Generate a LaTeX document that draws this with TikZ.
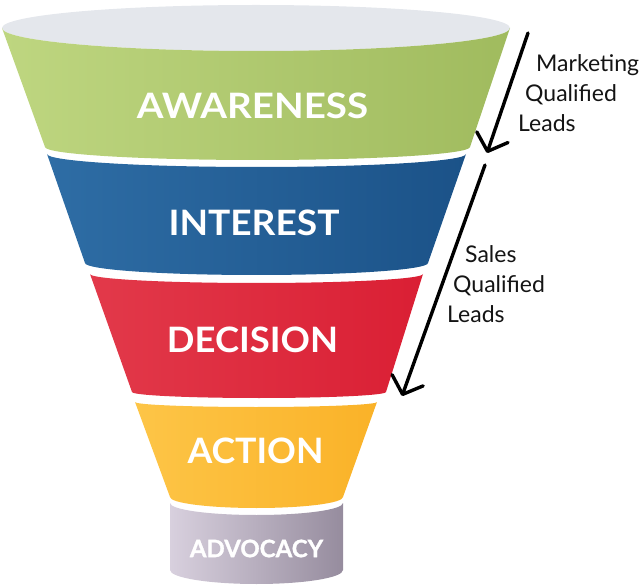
\documentclass[tikz,border=0pt]{standalone}
\usepackage{fontspec}
\setmainfont{Lato}
\newfontfamily\heavy{Lato}[BoldFeatures={FakeBold=1.2}]
\usetikzlibrary{arrows.meta}
\definecolor{ctop}{RGB}{228,231,236}
\definecolor{g1}{RGB}{190,214,128}
\definecolor{g2}{RGB}{160,187,94}
\definecolor{b1}{RGB}{46,109,165}
\definecolor{b2}{RGB}{27,82,136}
\definecolor{r1}{RGB}{226,57,74}
\definecolor{r2}{RGB}{218,31,52}
\definecolor{y1}{RGB}{253,197,71}
\definecolor{y2}{RGB}{250,178,40}
\definecolor{v1}{RGB}{216,208,222}
\definecolor{v2}{RGB}{150,140,158}
\definecolor{ink}{RGB}{20,20,20}
\begin{document}
\begin{tikzpicture}[x=1pt,y=-1pt,
  stage/.style={text=white,inner sep=0pt,font=\fontsize{35}{35}\selectfont\bfseries},
  side/.style={text=ink,inner sep=0pt,anchor=base west,font=\fontsize{23}{23}\selectfont},
  flow/.style={draw=black,line width=3.4pt,line cap=round,-{Straight Barb[round,length=15pt,width=33pt]}}]
\useasboundingbox (0,0) rectangle (643,588);
% rim
\fill[ctop] (256,28) ellipse [x radius=254pt, y radius=23pt];
% awareness
\shade[left color=g1,right color=g2] (2,28) -- (45,147)
  arc[start angle=180,end angle=360,x radius=212.5pt,y radius=13pt]
  -- (510,28) arc[start angle=360,end angle=180,x radius=254pt,y radius=23pt] -- cycle;
% interest
\shade[left color=b1,right color=b2] (47,154) -- (85,263)
  arc[start angle=180,end angle=360,x radius=171.5pt,y radius=12pt]
  -- (466,154) arc[start angle=360,end angle=180,x radius=209.5pt,y radius=13pt] -- cycle;
% decision
\shade[left color=r1,right color=r2] (90,274) -- (132,392)
  arc[start angle=180,end angle=360,x radius=127pt,y radius=6pt]
  -- (423,274) arc[start angle=360,end angle=180,x radius=166.5pt,y radius=9pt] -- cycle;
% action
\shade[left color=y1,right color=y2] (135,402) -- (170,497)
  arc[start angle=180,end angle=360,x radius=86.5pt,y radius=11pt]
  -- (377,402) arc[start angle=360,end angle=180,x radius=121pt,y radius=5pt] -- cycle;
% advocacy
\shade[left color=v1,right color=v2] (170,503) -- (170,570)
  arc[start angle=180,end angle=360,x radius=86.5pt,y radius=14pt]
  -- (343,503) arc[start angle=360,end angle=180,x radius=86.5pt,y radius=12pt] -- cycle;
% labels
\node[stage] (aw) at (252.5,105.5) {\scalebox{1.1}[1]{AWARENESS}};
\node[stage] (in) at (254,223) {\scalebox{1.06}[1]{INTEREST}};
\node[stage] (de) at (252.5,339.5) {\scalebox{1.04}[1]{DECISION}};
\node[stage] (ac) at (255.5,450.5) {\scalebox{1.02}[1]{ACTION}};
\node[stage,font=\fontsize{24}{24}\selectfont\heavy\bfseries] (ad) at (256.5,548.5) {ADVOCACY};
% arrows
\coordinate (m1) at (528,33);
\coordinate (m2) at (487,153);
\coordinate (s1) at (485,165);
\coordinate (s2) at (402,396);
\draw[flow] (m1) -- (m2);
\draw[flow] (s1) -- (s2);
% side texts
\node[side] (mq1) at (536,72) {Marketing};
\node[side] (mq2) at (525,102) {Qualified};
\node[side] (mq3) at (518,132) {Leads};
\node[side] (sq1) at (465,263) {Sales};
\node[side] (sq2) at (453,293) {Qualified};
\node[side] (sq3) at (447,323) {Leads};
\end{tikzpicture}
\end{document}
